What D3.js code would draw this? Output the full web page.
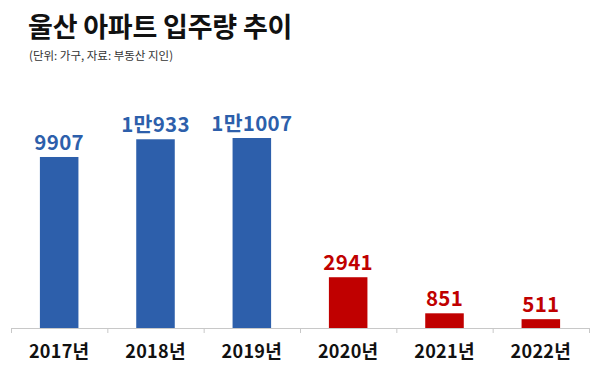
<!DOCTYPE html>
<html>
<head>
<meta charset="utf-8">
<script src="https://cdn.jsdelivr.net/npm/d3@7"></script>
<style>
  body { margin: 0; background: #fff; }
  svg { display: block; font-family: "Noto Sans CJK KR", "Noto Sans", sans-serif; }
</style>
</head>
<body>
<div id="chart"></div>
<script>
const years = ["2017년", "2018년", "2019년", "2020년", "2021년", "2022년"];
const supply = [9907, 10933, 11007, 2941, 851, 511];
const valueLabels = ["9907", "1만933", "1만1007", "2941", "851", "511"];

const width = 600;
const height = 371;

const blue = "#2D5FAB";
const red = "#C00000";

const svg = d3.select("#chart").append("svg")
    .attr("width", width)
    .attr("height", height);

svg.append("text")
    .attr("x", 28)
    .attr("y", 37)
    .attr("font-size", 27)
    .attr("font-weight", 700)
    .attr("letter-spacing", -0.2)
    .attr("fill", "#111")
    .text("울산 아파트 입주량 추이");

svg.append("text")
    .attr("x", 29)
    .attr("y", 60)
    .attr("font-size", 11.5)
    .attr("fill", "#333")
    .text("(단위: 가구, 자료: 부동산 지인)");

const x = d3.scaleBand()
    .domain(years)
    .range([11, 589])
    .paddingInner(0.6)
    .paddingOuter(0.3);

const y = d3.scaleLinear()
    .domain([0, 11007])
    .range([328, 138]);

const data = years.map((yr, i) => ({ year: yr, value: supply[i], label: valueLabels[i] }));

svg.selectAll("rect.bar")
    .data(data)
    .enter().append("rect")
    .attr("class", "bar")
    .attr("x", d => x(d.year))
    .attr("y", d => y(d.value))
    .attr("width", x.bandwidth())
    .attr("height", d => y(0) - y(d.value))
    .attr("fill", (d, i) => i < 3 ? blue : red);

svg.selectAll("text.val")
    .data(data)
    .enter().append("text")
    .attr("class", "val")
    .attr("x", d => x(d.year) + x.bandwidth() / 2)
    .attr("y", d => y(d.value) - 7)
    .attr("text-anchor", "middle")
    .attr("font-size", 20.5)
    .attr("font-weight", 700)
    .attr("letter-spacing", 0.3)
    .attr("fill", (d, i) => i < 3 ? blue : red)
    .text(d => d.label);

// axis: baseline with boundary ticks
const edges = d3.range(years.length + 1).map(i => 11 + i * (578 / years.length));

svg.append("line")
    .attr("x1", 11).attr("x2", 589)
    .attr("y1", y(0) + 0.5).attr("y2", y(0) + 0.5)
    .attr("stroke", "#c8c8c8");

svg.selectAll("line.tick")
    .data(edges)
    .enter().append("line")
    .attr("class", "tick")
    .attr("x1", d => d + 0.5).attr("x2", d => d + 0.5)
    .attr("y1", y(0)).attr("y2", y(0) + 5)
    .attr("stroke", "#c8c8c8");

svg.selectAll("text.year")
    .data(years)
    .enter().append("text")
    .attr("class", "year")
    .attr("x", d => x(d) + x.bandwidth() / 2)
    .attr("y", 358)
    .attr("text-anchor", "middle")
    .attr("font-size", 18)
    .attr("font-weight", 700)
    .attr("letter-spacing", 0.3)
    .attr("fill", "#111")
    .text(d => d);
</script>
</body>
</html>
